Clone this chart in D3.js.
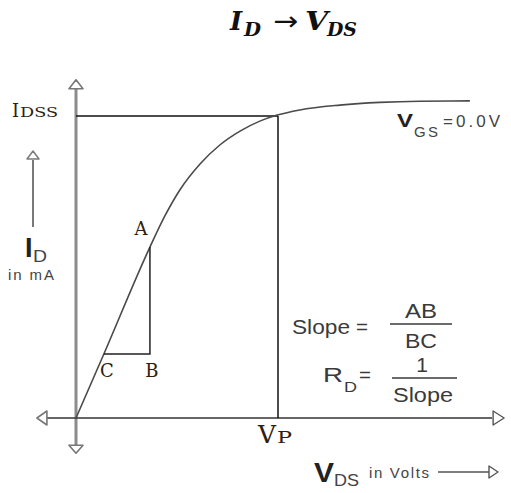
<!DOCTYPE html>
<html>
<head>
<meta charset="utf-8">
<script src="https://cdn.jsdelivr.net/npm/d3@7"></script>
<style>
  html, body { margin: 0; padding: 0; background: #fff; }
  svg { display: block; }
</style>
</head>
<body>
<svg id="chart" width="511" height="493"></svg>
<script>
// Drain characteristic: drain current (mA) against drain-source voltage (V), VGS = 0 V
const vdsValues = [0, 0.69, 1.83, 2.20, 2.57, 3.07, 3.56, 4.06, 4.55, 4.98, 5.54, 6.53, 7.52, 8.51, 9.75];
const idValues  = [0, 2.12, 5.66, 6.69, 7.55, 8.41, 9.04, 9.50, 9.83, 10.03, 10.20, 10.36, 10.45, 10.49, 10.50];

// Reference levels
const idss = 10;     // saturation current
const vp = 5;        // pinch-off voltage

// Slope triangle vertices (VDS, ID)
const slopeLabels = ["A", "B", "C"];
const slopeVds = [1.83, 1.83, 0.69];
const slopeId  = [5.66, 2.12, 2.12];

// Axis extents in data units
const xExtent = [-0.72, 10.3];
const yExtent = [-0.9, 11.2];

const svg = d3.select("#chart");
const x = d3.scaleLinear().domain([0, 10]).range([76, 480]);
const y = d3.scaleLinear().domain([0, 10]).range([418, 116]);

const x0 = x(0), y0 = y(0);

// text helper; optional fixed width (glyph stretch or letter spacing)
function label(px, py, str, opts) {
  const t = svg.append("text")
    .attr("x", px).attr("y", py)
    .attr("font-family", opts.family || "Liberation Sans")
    .attr("font-size", opts.size)
    .attr("fill", opts.fill || "#333")
    .text(str);
  if (opts.weight) t.attr("font-weight", opts.weight);
  if (opts.style) t.attr("font-style", opts.style);
  if (opts.anchor) t.attr("text-anchor", opts.anchor);
  if (opts.width) t.attr("textLength", opts.width)
    .attr("lengthAdjust", opts.spread ? "spacing" : "spacingAndGlyphs");
  return t;
}

// ---- Title ----
const tf = { family: "DejaVu Serif", weight: "bold", style: "italic", fill: "#111" };
label(230, 30, "I", { ...tf, size: 26 });
label(244, 36, "D", { ...tf, size: 18, width: 17 });
label(286, 30, "\u2192", { family: "DejaVu Sans", size: 26, fill: "#111", anchor: "middle", width: 25 });
label(305, 30, "V", { ...tf, size: 26, width: 23 });
label(327, 36, "DS", { ...tf, size: 18, width: 30 });

// ---- Axes ----
const axisGray = "#8c8c8c";
svg.append("line")
  .attr("x1", x0).attr("x2", x0)
  .attr("y1", y(yExtent[1]) + 8).attr("y2", y(yExtent[0]))
  .attr("stroke", axisGray).attr("stroke-width", 3);
svg.append("line")
  .attr("x1", x(xExtent[0])).attr("x2", x(xExtent[1]))
  .attr("y1", y0).attr("y2", y0)
  .attr("stroke", "#333").attr("stroke-width", 1.5);

// open triangular arrowheads
function arrowHead(tipX, tipY, dir, len, half, color, sw) {
  let pts;
  if (dir === "up") pts = [[tipX, tipY], [tipX - half, tipY + len], [tipX + half, tipY + len]];
  if (dir === "down") pts = [[tipX, tipY], [tipX - half, tipY - len], [tipX + half, tipY - len]];
  if (dir === "left") pts = [[tipX, tipY], [tipX + len, tipY - half], [tipX + len, tipY + half]];
  if (dir === "right") pts = [[tipX, tipY], [tipX - len, tipY - half], [tipX - len, tipY + half]];
  svg.append("path")
    .attr("d", d3.line()(pts) + "Z")
    .attr("fill", "#fff").attr("stroke", color).attr("stroke-width", sw)
    .attr("stroke-linejoin", "round");
}
arrowHead(x0, y(yExtent[1]), "up", 9, 7, "#777", 1.6);
arrowHead(x0, y(yExtent[0]) + 8, "down", 8, 7, "#777", 1.6);
arrowHead(x(xExtent[0]) - 10, y0, "left", 10, 7, "#777", 1.6);
arrowHead(x(xExtent[1]) + 12, y0, "right", 11, 7, "#555", 1.4);

// ---- Reference lines: IDSS and VP ----
svg.append("line")
  .attr("x1", x0).attr("x2", x(vp))
  .attr("y1", y(idss)).attr("y2", y(idss))
  .attr("stroke", "#111").attr("stroke-width", 1.5);
svg.append("line")
  .attr("x1", x(vp)).attr("x2", x(vp))
  .attr("y1", y(idss)).attr("y2", y0)
  .attr("stroke", "#111").attr("stroke-width", 1.5);

// ---- Characteristic curve ----
const pts = vdsValues.map((v, i) => [v, idValues[i]]);
svg.append("path")
  .datum(pts)
  .attr("d", d3.line().x(d => x(d[0])).y(d => y(d[1])).curve(d3.curveMonotoneX))
  .attr("fill", "none").attr("stroke", "#4a4a4a").attr("stroke-width", 1.6);

// ---- Slope triangle ----
const tri = slopeLabels.map((l, i) => ({ label: l, px: x(slopeVds[i]), py: y(slopeId[i]) }));
svg.append("path")
  .attr("d", d3.line()([[tri[0].px, tri[0].py], [tri[1].px, tri[1].py], [tri[2].px, tri[2].py]]))
  .attr("fill", "none").attr("stroke", "#222").attr("stroke-width", 1.5);

const serifColor = "#2e200c";
const labelOffsets = { A: [-9, -12], B: [2, 23], C: [3, 23] };
tri.forEach(t => {
  label(t.px + labelOffsets[t.label][0], t.py + labelOffsets[t.label][1], t.label,
    { family: "DejaVu Serif", size: 18, fill: serifColor, anchor: "middle" });
});

// ---- IDSS / VP labels ----
label(12, y(idss) + 1, "I", { family: "DejaVu Serif", size: 18, fill: serifColor });
label(20, y(idss) + 1, "DSS", { family: "DejaVu Serif", size: 13, fill: serifColor, width: 38 });
label(x(vp) - 20, y0 + 25, "V", { family: "DejaVu Serif", size: 25, fill: serifColor, width: 18 });
label(x(vp) - 1, y0 + 25, "P", { family: "DejaVu Serif", size: 16, fill: serifColor, width: 15 });

// ---- VGS curve label ----
label(397, 127, "V", { size: 18, weight: "bold", fill: "#222", width: 16 });
label(414, 137, "GS", { size: 15, fill: "#444", width: 24, spread: true });
label(443, 127, "=0.0V", { size: 17, fill: "#444", width: 57, spread: true });

// ---- Y-axis title with arrow ----
svg.append("line")
  .attr("x1", 33).attr("x2", 33).attr("y1", 160).attr("y2", 227)
  .attr("stroke", "#7a7a7a").attr("stroke-width", 2);
arrowHead(33, 151, "up", 8, 6, "#7a7a7a", 1.5);
label(25, 257, "I", { size: 27, weight: "bold", fill: "#222" });
label(33, 262, "D", { size: 17, fill: "#444", width: 14 });
label(8, 280, "in mA", { size: 15, fill: "#444", width: 46, spread: true });

// ---- X-axis title with arrow ----
label(314, 482, "V", { size: 27, weight: "bold", fill: "#222", width: 20 });
label(334, 486, "DS", { size: 17, fill: "#444", width: 25 });
label(369, 478, "in Volts", { size: 15, fill: "#444", width: 60, spread: true });
svg.append("line")
  .attr("x1", 438).attr("x2", 491).attr("y1", 472).attr("y2", 472)
  .attr("stroke", "#555").attr("stroke-width", 1.5);
arrowHead(498, 472, "right", 9, 6, "#555", 1.4);

// ---- Slope / resistance formulas ----
const fc = "#3a3a3a";
label(292, 334, "Slope", { size: 21, fill: fc, width: 58 });
label(356, 334, "=", { size: 21, fill: fc, width: 12 });
label(421, 318, "AB", { size: 21, fill: fc, anchor: "middle", width: 32 });
svg.append("line").attr("x1", 390).attr("x2", 452).attr("y1", 324).attr("y2", 324)
  .attr("stroke", fc).attr("stroke-width", 1.4);
label(421, 348, "BC", { size: 21, fill: fc, anchor: "middle", width: 32 });

label(323, 382, "R", { size: 21, fill: fc, width: 20 });
label(344, 392, "D", { size: 15, fill: fc, width: 13 });
label(359, 382, "=", { size: 21, fill: fc, width: 12 });
label(422, 372, "1", { size: 21, fill: fc, anchor: "middle" });
svg.append("line").attr("x1", 392).attr("x2", 457).attr("y1", 378).attr("y2", 378)
  .attr("stroke", fc).attr("stroke-width", 1.4);
label(423, 402, "Slope", { size: 21, fill: fc, anchor: "middle", width: 60 });
</script>
</body>
</html>
